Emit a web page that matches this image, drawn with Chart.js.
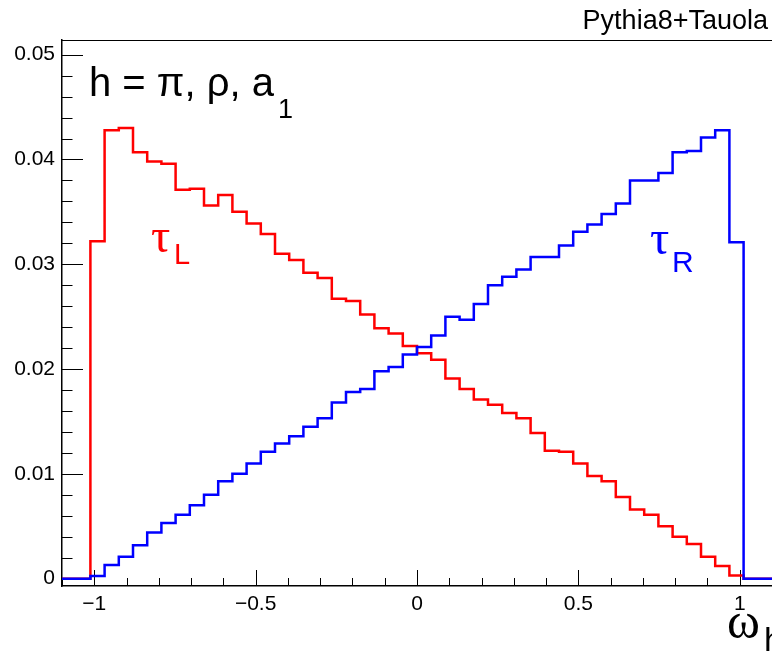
<!DOCTYPE html>
<html><head><meta charset="utf-8">
<script src="https://cdn.jsdelivr.net/npm/chart.js@4.4.1/dist/chart.umd.min.js"></script>
<style>html,body{margin:0;padding:0;background:#fff;overflow:hidden}#wrap{width:772px;height:653px}</style>
</head><body><div id="wrap"><canvas id="c" width="772" height="653"></canvas></div>
<script>
// Histogram binning
const histMin = -1.1, histMax = 1.1, nBins = 50;
// tau_L (red) and tau_R (blue) bin contents
const tauL = [0, 0, 0.0322, 0.0428, 0.0430, 0.0407, 0.0398, 0.0396, 0.0371, 0.0372,
  0.0356, 0.0366, 0.0350, 0.0339, 0.0329, 0.0310, 0.0304, 0.0292, 0.0287, 0.0267,
  0.0265, 0.0252, 0.0239, 0.0234, 0.0222, 0.0215, 0.0209, 0.0191, 0.0181, 0.0171,
  0.0166, 0.0158, 0.0153, 0.0139, 0.0122, 0.0121, 0.0110, 0.0098, 0.0093, 0.0078,
  0.0066, 0.0061, 0.0050, 0.0040, 0.0033, 0.0021, 0.0012, 0.0003, 0, 0];
const tauR = [0, 0, 0.00025, 0.0013, 0.0021, 0.0032, 0.0044, 0.0053, 0.0061, 0.0070,
  0.0080, 0.0093, 0.0100, 0.0110, 0.0121, 0.0129, 0.0136, 0.0145, 0.0153, 0.0168,
  0.0178, 0.0181, 0.0198, 0.0202, 0.0214, 0.0221, 0.0232, 0.0250, 0.0247, 0.0262,
  0.0280, 0.0288, 0.0295, 0.0307, 0.0307, 0.0318, 0.0331, 0.0338, 0.0348, 0.0358,
  0.0380, 0.0380, 0.0387, 0.0407, 0.0408, 0.0421, 0.0428, 0.0321, 0, 0];
// Axis ticks
const xTickValues = [-1, -0.5, 0, 0.5, 1];
const xTickLabels = ['\u22121', '\u22120.5', '0', '0.5', '1'];
const yTickValues = [0, 0.01, 0.02, 0.03, 0.04, 0.05];
const yTickLabels = ['0', '0.01', '0.02', '0.03', '0.04', '0.05'];
const yMin = -0.0007, yMax = 0.0514;

const FONT = '"Liberation Sans", Arial, Helvetica, sans-serif';
const SERIF = '"Liberation Serif", "Times New Roman", serif';
const binW = (histMax - histMin) / nBins;
function histPoints(vals) {
  const pts = vals.map((v, i) => ({x: histMin + i * binW, y: v}));
  pts.push({x: histMax, y: vals[vals.length - 1]});
  return pts;
}

const decor = {
  id: 'decor',
  beforeDatasetsDraw(chart) {
    const {ctx, chartArea: a, scales: {x, y}} = chart;
    ctx.save();
    ctx.strokeStyle = '#000';
    ctx.lineWidth = 1;
    ctx.beginPath();
    ctx.moveTo(a.left, a.top + 0.5); ctx.lineTo(a.right, a.top + 0.5);
    for (let k = 0; k <= 25; k++) {
      const v = k * 0.002;
      if (v > yMax) break;
      const py = Math.round(y.getPixelForValue(v)) + 0.5;
      const len = (k % 5 === 0) ? 21 : 10.5;
      ctx.moveTo(a.left, py); ctx.lineTo(a.left + len, py);
    }
    for (let k = -11; k <= 11; k++) {
      const v = k / 10;
      const px = Math.round(x.getPixelForValue(v)) + 0.5;
      const len = (k % 5 === 0) ? 16 : 8;
      ctx.moveTo(px, a.bottom); ctx.lineTo(px, a.bottom - len);
    }
    ctx.stroke();
    ctx.restore();
  },
  afterDraw(chart) {
    const {ctx} = chart;
    ctx.save();
    ctx.textBaseline = 'alphabetic';
    ctx.fillStyle = '#000';
    ctx.font = '27px ' + FONT;
    ctx.textAlign = 'right';
    ctx.fillText('Pythia8+Tauola', 768, 29);
    ctx.textAlign = 'left';
    ctx.font = '40px ' + FONT;
    const t = 'h = \u03c0, \u03c1, a';
    ctx.fillText(t, 89, 96);
    const w = ctx.measureText(t).width;
    ctx.font = '27px ' + FONT;
    ctx.fillText('1', 89 + w + 4, 118);
    // tau_L
    ctx.fillStyle = '#ff0000';
    ctx.font = '48px ' + SERIF;
    ctx.fillText('\u03c4', 151, 252);
    ctx.font = '29px ' + FONT;
    ctx.fillText('L', 174, 264);
    // tau_R
    ctx.fillStyle = '#0000ff';
    ctx.font = '48px ' + SERIF;
    ctx.fillText('\u03c4', 650, 254);
    ctx.font = '30px ' + FONT;
    ctx.fillText('R', 672, 272);
    // axis title omega_h
    ctx.fillStyle = '#000';
    ctx.font = '50px ' + SERIF;
    ctx.fillText('\u03c9', 727, 638);
    ctx.font = '34px ' + FONT;
    ctx.fillText('h', 764, 651);
    ctx.restore();
  }
};

new Chart(document.getElementById('c'), {
  type: 'line',
  data: {
    datasets: [
      {label: 'tauR', data: histPoints(tauR), borderColor: '#0000ff', borderWidth: 2.5,
       stepped: true, pointRadius: 0, fill: false},
      {label: 'tauL', data: histPoints(tauL), borderColor: '#ff0000', borderWidth: 2.5,
       stepped: true, pointRadius: 0, fill: false}
    ]
  },
  options: {
    responsive: false, animation: false, devicePixelRatio: 1,
    layout: {padding: {left: 0, right: 0, top: 40, bottom: 0}},
    plugins: {legend: {display: false}, tooltip: {enabled: false}},
    scales: {
      x: {
        type: 'linear', min: histMin, max: histMax,
        afterBuildTicks: s => { s.ticks = xTickValues.map(v => ({value: v})); },
        afterFit: s => { s.height = 67; },
        grid: {display: false, drawTicks: false},
        border: {display: true, color: '#000', width: 1.5},
        ticks: {
          autoSkip: false, maxRotation: 0, padding: 6, color: '#000',
          font: {family: FONT, size: 21},
          callback: v => xTickLabels[xTickValues.indexOf(v)]
        }
      },
      y: {
        type: 'linear', min: yMin, max: yMax,
        afterBuildTicks: s => { s.ticks = yTickValues.map(v => ({value: v})); },
        afterFit: s => { s.width = 62; },
        grid: {display: false, drawTicks: false},
        border: {display: true, color: '#000', width: 1.5},
        ticks: {
          autoSkip: false, padding: 7, color: '#000',
          font: {family: FONT, size: 21},
          callback: v => yTickLabels[yTickValues.indexOf(v)]
        }
      }
    }
  },
  plugins: [decor]
});
</script></body></html>
